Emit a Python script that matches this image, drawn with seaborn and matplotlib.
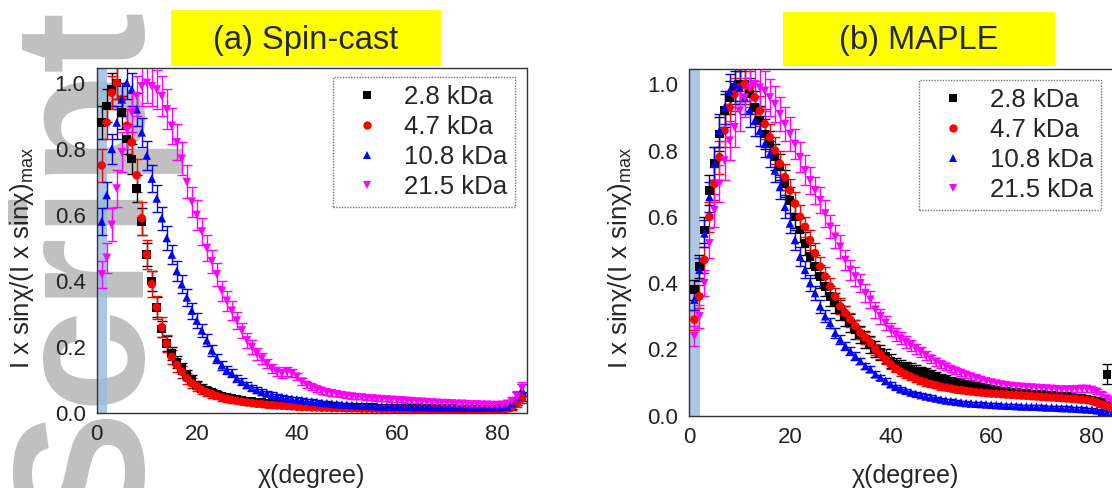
import numpy as np
import pandas as pd
import matplotlib
matplotlib.use("Agg")
import matplotlib.pyplot as plt
from matplotlib.patches import Rectangle
import seaborn as sns

# ---------------------------------------------------------------- data
chi = np.arange(1, 86)  # scattering angle chi, degree

series_labels = ["2.8 kDa", "4.7 kDa", "10.8 kDa", "21.5 kDa"]
series_colors = ["#000000", "#ff0000", "#0000ff", "#ff00ff"]
series_markers = ["s", "o", "^", "v"]

panel_titles = ["(a) Spin-cast", "(b) MAPLE"]
x_ticks = [0, 20, 40, 60, 80]
y_ticks = [0.0, 0.2, 0.4, 0.6, 0.8, 1.0]

# (a) spin-cast films
a_28 = [0.88, 0.93, 0.98, 1.00, 0.91, 0.83, 0.77, 0.68, 0.58, 0.48,
        0.40, 0.32, 0.255, 0.21, 0.18, 0.155, 0.135, 0.115, 0.10, 0.085,
        0.075, 0.068, 0.062, 0.057, 0.052, 0.048, 0.045, 0.042, 0.039, 0.037,
        0.035, 0.033, 0.031, 0.030, 0.028, 0.027, 0.026, 0.025, 0.024, 0.023,
        0.022, 0.022, 0.021, 0.020, 0.020, 0.019, 0.019, 0.018, 0.018, 0.017,
        0.017, 0.017, 0.016, 0.016, 0.016, 0.015, 0.015, 0.015, 0.015, 0.014,
        0.014, 0.014, 0.014, 0.014, 0.013, 0.013, 0.013, 0.013, 0.013, 0.013,
        0.013, 0.012, 0.012, 0.012, 0.012, 0.012, 0.012, 0.012, 0.012, 0.012,
        0.013, 0.015, 0.020, 0.035, 0.050]
a_47 = [0.75, 0.88, 0.97, 1.00, 0.95, 0.87, 0.82, 0.72, 0.59, 0.48,
        0.39, 0.32, 0.26, 0.21, 0.17, 0.145, 0.125, 0.105, 0.09, 0.08,
        0.07, 0.063, 0.057, 0.052, 0.047, 0.043, 0.040, 0.037, 0.034, 0.032,
        0.030, 0.028, 0.027, 0.025, 0.024, 0.023, 0.022, 0.021, 0.020, 0.019,
        0.018, 0.018, 0.017, 0.017, 0.016, 0.016, 0.015, 0.015, 0.015, 0.014,
        0.014, 0.014, 0.013, 0.013, 0.013, 0.013, 0.012, 0.012, 0.012, 0.012,
        0.012, 0.011, 0.011, 0.011, 0.011, 0.011, 0.011, 0.010, 0.010, 0.010,
        0.010, 0.010, 0.010, 0.010, 0.010, 0.010, 0.010, 0.010, 0.010, 0.010,
        0.011, 0.013, 0.018, 0.030, 0.045]
a_108 = [0.58, 0.66, 0.80, 0.88, 0.95, 1.00, 0.98, 0.92, 0.85, 0.78,
         0.71, 0.65, 0.59, 0.53, 0.48, 0.43, 0.39, 0.35, 0.31, 0.28,
         0.25, 0.22, 0.19, 0.165, 0.145, 0.13, 0.12, 0.105, 0.095, 0.085,
         0.077, 0.070, 0.064, 0.059, 0.055, 0.051, 0.048, 0.045, 0.043, 0.041,
         0.039, 0.037, 0.035, 0.033, 0.031, 0.030, 0.028, 0.027, 0.026, 0.025,
         0.024, 0.023, 0.022, 0.022, 0.021, 0.021, 0.020, 0.020, 0.020, 0.019,
         0.019, 0.019, 0.018, 0.018, 0.018, 0.018, 0.017, 0.017, 0.017, 0.017,
         0.017, 0.017, 0.016, 0.016, 0.016, 0.016, 0.016, 0.016, 0.016, 0.016,
         0.018, 0.020, 0.030, 0.050, 0.070]
a_215 = [0.42, 0.47, 0.57, 0.68, 0.79, 0.86, 0.91, 0.96, 0.99, 1.00,
         0.99, 0.98, 0.96, 0.92, 0.87, 0.82, 0.77, 0.70, 0.64, 0.60,
         0.55, 0.50, 0.46, 0.42, 0.37, 0.34, 0.31, 0.28, 0.25, 0.22,
         0.20, 0.18, 0.165, 0.15, 0.135, 0.125, 0.12, 0.125, 0.12, 0.11,
         0.095, 0.085, 0.078, 0.072, 0.067, 0.063, 0.060, 0.057, 0.054, 0.052,
         0.050, 0.048, 0.047, 0.045, 0.044, 0.043, 0.042, 0.041, 0.040, 0.039,
         0.038, 0.037, 0.036, 0.035, 0.034, 0.033, 0.032, 0.031, 0.030, 0.030,
         0.029, 0.028, 0.028, 0.027, 0.026, 0.026, 0.025, 0.025, 0.024, 0.024,
         0.025, 0.028, 0.035, 0.050, 0.075]

a_28_err = [0.05, 0.05, 0.05, 0.05, 0.05, 0.045, 0.045, 0.04, 0.04, 0.035,
            0.03, 0.03, 0.025, 0.022, 0.02, 0.018, 0.016, 0.015, 0.014, 0.013,
            0.012, 0.011, 0.010, 0.010, 0.009, 0.009, 0.008, 0.008, 0.008, 0.007,
            0.007, 0.007, 0.006, 0.006, 0.006, 0.006, 0.005, 0.005, 0.005, 0.005,
            0.005, 0.005, 0.005, 0.005, 0.005, 0.004, 0.004, 0.004, 0.004, 0.004,
            0.004, 0.004, 0.004, 0.004, 0.004, 0.004, 0.004, 0.004, 0.004, 0.004,
            0.004, 0.004, 0.004, 0.004, 0.004, 0.004, 0.004, 0.004, 0.004, 0.004,
            0.004, 0.004, 0.004, 0.004, 0.004, 0.004, 0.004, 0.004, 0.004, 0.004,
            0.005, 0.006, 0.008, 0.012, 0.015]
a_47_err = [0.05, 0.05, 0.05, 0.05, 0.05, 0.05, 0.05, 0.05, 0.05, 0.045,
            0.04, 0.035, 0.03, 0.025, 0.022, 0.02, 0.018, 0.016, 0.015, 0.014,
            0.013, 0.012, 0.011, 0.010, 0.010, 0.009, 0.009, 0.008, 0.008, 0.007,
            0.007, 0.007, 0.006, 0.006, 0.006, 0.006, 0.005, 0.005, 0.005, 0.005,
            0.005, 0.005, 0.005, 0.005, 0.005, 0.004, 0.004, 0.004, 0.004, 0.004,
            0.004, 0.004, 0.004, 0.004, 0.004, 0.004, 0.004, 0.004, 0.004, 0.004,
            0.004, 0.004, 0.004, 0.004, 0.004, 0.004, 0.004, 0.004, 0.004, 0.004,
            0.004, 0.004, 0.004, 0.004, 0.004, 0.004, 0.004, 0.004, 0.004, 0.004,
            0.005, 0.006, 0.008, 0.012, 0.015]
a_108_err = [0.04, 0.04, 0.045, 0.05, 0.05, 0.05, 0.05, 0.05, 0.045, 0.045,
             0.04, 0.04, 0.035, 0.035, 0.03, 0.03, 0.028, 0.026, 0.024, 0.022,
             0.02, 0.018, 0.016, 0.015, 0.014, 0.013, 0.012, 0.011, 0.010, 0.010,
             0.009, 0.009, 0.008, 0.008, 0.008, 0.007, 0.007, 0.007, 0.006, 0.006,
             0.006, 0.006, 0.006, 0.005, 0.005, 0.005, 0.005, 0.005, 0.005, 0.005,
             0.005, 0.005, 0.005, 0.005, 0.005, 0.005, 0.005, 0.005, 0.005, 0.005,
             0.005, 0.005, 0.005, 0.005, 0.005, 0.005, 0.005, 0.005, 0.005, 0.005,
             0.005, 0.005, 0.005, 0.005, 0.005, 0.005, 0.005, 0.005, 0.005, 0.005,
             0.006, 0.007, 0.010, 0.014, 0.018]
a_215_err = [0.04, 0.045, 0.05, 0.055, 0.06, 0.06, 0.06, 0.06, 0.06, 0.06,
             0.06, 0.06, 0.06, 0.06, 0.055, 0.055, 0.05, 0.05, 0.045, 0.045,
             0.04, 0.04, 0.035, 0.035, 0.03, 0.03, 0.028, 0.026, 0.024, 0.022,
             0.02, 0.018, 0.016, 0.015, 0.014, 0.013, 0.013, 0.013, 0.012, 0.011,
             0.010, 0.010, 0.009, 0.009, 0.008, 0.008, 0.008, 0.007, 0.007, 0.007,
             0.007, 0.006, 0.006, 0.006, 0.006, 0.006, 0.006, 0.006, 0.006, 0.006,
             0.006, 0.006, 0.006, 0.006, 0.006, 0.006, 0.006, 0.006, 0.006, 0.006,
             0.006, 0.006, 0.006, 0.006, 0.006, 0.006, 0.006, 0.006, 0.006, 0.006,
             0.008, 0.009, 0.012, 0.016, 0.020]

# (b) MAPLE films
b_28 = [0.38, 0.45, 0.56, 0.68, 0.76, 0.85, 0.92, 0.96, 0.99, 1.00,
        1.00, 0.97, 0.93, 0.89, 0.85, 0.82, 0.78, 0.75, 0.70, 0.65,
        0.60, 0.56, 0.52, 0.48, 0.45, 0.42, 0.39, 0.36, 0.34, 0.32,
        0.30, 0.28, 0.26, 0.245, 0.23, 0.215, 0.20, 0.19, 0.18, 0.165,
        0.155, 0.150, 0.145, 0.140, 0.135, 0.130, 0.127, 0.122, 0.117, 0.112,
        0.108, 0.104, 0.100, 0.097, 0.094, 0.091, 0.088, 0.085, 0.082, 0.079,
        0.077, 0.075, 0.073, 0.071, 0.070, 0.068, 0.067, 0.066, 0.065, 0.064,
        0.062, 0.061, 0.060, 0.059, 0.058, 0.056, 0.054, 0.052, 0.050, 0.047,
        0.045, 0.040, 0.125, 0.030, 0.020]
b_47 = [0.29, 0.36, 0.47, 0.60, 0.70, 0.78, 0.86, 0.93, 0.97, 0.99,
        1.00, 0.99, 0.96, 0.92, 0.88, 0.84, 0.80, 0.76, 0.72, 0.68,
        0.64, 0.60, 0.57, 0.53, 0.49, 0.45, 0.42, 0.39, 0.36, 0.33,
        0.31, 0.29, 0.27, 0.25, 0.235, 0.22, 0.20, 0.185, 0.17, 0.155,
        0.143, 0.133, 0.125, 0.118, 0.111, 0.105, 0.100, 0.096, 0.092, 0.088,
        0.085, 0.082, 0.079, 0.077, 0.075, 0.073, 0.071, 0.070, 0.068, 0.067,
        0.066, 0.065, 0.064, 0.063, 0.062, 0.061, 0.060, 0.059, 0.058, 0.057,
        0.056, 0.055, 0.054, 0.053, 0.052, 0.051, 0.050, 0.049, 0.047, 0.045,
        0.040, 0.034, 0.028, 0.022, 0.018]
b_108 = [0.35, 0.44, 0.55, 0.66, 0.76, 0.86, 0.93, 0.98, 1.00, 0.99,
         0.96, 0.92, 0.89, 0.86, 0.82, 0.79, 0.74, 0.69, 0.63, 0.58,
         0.53, 0.48, 0.44, 0.40, 0.37, 0.33, 0.30, 0.28, 0.25, 0.23,
         0.21, 0.195, 0.18, 0.165, 0.15, 0.14, 0.125, 0.115, 0.105, 0.095,
         0.087, 0.080, 0.075, 0.070, 0.066, 0.062, 0.058, 0.055, 0.052, 0.049,
         0.046, 0.044, 0.042, 0.040, 0.038, 0.037, 0.036, 0.035, 0.034, 0.033,
         0.032, 0.031, 0.030, 0.030, 0.029, 0.028, 0.028, 0.027, 0.027, 0.026,
         0.025, 0.025, 0.024, 0.023, 0.023, 0.022, 0.021, 0.020, 0.019, 0.018,
         0.016, 0.012, 0.008, 0.005, 0.004]
b_215 = [0.24, 0.30, 0.40, 0.52, 0.62, 0.70, 0.77, 0.83, 0.87, 0.92,
         0.96, 0.99, 1.00, 0.99, 0.98, 0.96, 0.94, 0.91, 0.88, 0.85,
         0.82, 0.78, 0.74, 0.71, 0.68, 0.65, 0.61, 0.57, 0.54, 0.51,
         0.47, 0.44, 0.42, 0.40, 0.37, 0.35, 0.32, 0.30, 0.28, 0.26,
         0.245, 0.233, 0.222, 0.212, 0.202, 0.192, 0.182, 0.172, 0.163, 0.155,
         0.148, 0.141, 0.135, 0.129, 0.123, 0.118, 0.113, 0.108, 0.104, 0.100,
         0.097, 0.094, 0.092, 0.090, 0.088, 0.087, 0.086, 0.085, 0.084, 0.083,
         0.082, 0.081, 0.080, 0.079, 0.079, 0.079, 0.080, 0.081, 0.081, 0.078,
         0.072, 0.062, 0.052, 0.042, 0.035]

b_28_err = [0.03, 0.035, 0.04, 0.045, 0.05, 0.05, 0.05, 0.05, 0.05, 0.05,
            0.05, 0.05, 0.05, 0.045, 0.045, 0.04, 0.04, 0.04, 0.04, 0.04,
            0.035, 0.035, 0.035, 0.035, 0.035, 0.035, 0.03, 0.03, 0.03, 0.03,
            0.03, 0.028, 0.028, 0.026, 0.026, 0.025, 0.024, 0.023, 0.022, 0.021,
            0.020, 0.019, 0.018, 0.018, 0.017, 0.016, 0.016, 0.015, 0.015, 0.014,
            0.014, 0.013, 0.013, 0.012, 0.012, 0.012, 0.011, 0.011, 0.011, 0.010,
            0.010, 0.010, 0.010, 0.010, 0.010, 0.010, 0.010, 0.010, 0.010, 0.010,
            0.010, 0.010, 0.010, 0.010, 0.010, 0.010, 0.010, 0.010, 0.010, 0.010,
            0.010, 0.010, 0.030, 0.010, 0.010]
b_47_err = [0.03, 0.035, 0.04, 0.045, 0.05, 0.05, 0.05, 0.05, 0.05, 0.05,
            0.05, 0.05, 0.05, 0.045, 0.045, 0.04, 0.04, 0.04, 0.04, 0.035,
            0.035, 0.035, 0.03, 0.03, 0.03, 0.03, 0.028, 0.026, 0.025, 0.024,
            0.022, 0.021, 0.020, 0.019, 0.018, 0.017, 0.016, 0.015, 0.014, 0.013,
            0.012, 0.012, 0.011, 0.011, 0.010, 0.010, 0.010, 0.009, 0.009, 0.009,
            0.008, 0.008, 0.008, 0.008, 0.008, 0.007, 0.007, 0.007, 0.007, 0.007,
            0.007, 0.007, 0.007, 0.007, 0.007, 0.007, 0.007, 0.007, 0.007, 0.007,
            0.007, 0.007, 0.007, 0.007, 0.007, 0.007, 0.007, 0.007, 0.007, 0.007,
            0.007, 0.007, 0.007, 0.007, 0.007]
b_108_err = [0.03, 0.035, 0.04, 0.045, 0.05, 0.05, 0.05, 0.05, 0.05, 0.05,
             0.05, 0.05, 0.045, 0.045, 0.04, 0.04, 0.035, 0.035, 0.035, 0.03,
             0.03, 0.028, 0.026, 0.024, 0.022, 0.02, 0.018, 0.016, 0.015, 0.014,
             0.013, 0.012, 0.011, 0.010, 0.010, 0.009, 0.009, 0.008, 0.008, 0.008,
             0.007, 0.007, 0.007, 0.006, 0.006, 0.006, 0.006, 0.006, 0.005, 0.005,
             0.005, 0.005, 0.005, 0.005, 0.005, 0.005, 0.005, 0.005, 0.005, 0.005,
             0.005, 0.005, 0.005, 0.005, 0.005, 0.005, 0.005, 0.005, 0.005, 0.005,
             0.005, 0.005, 0.005, 0.005, 0.005, 0.005, 0.005, 0.005, 0.005, 0.005,
             0.005, 0.005, 0.005, 0.005, 0.005]
b_215_err = [0.03, 0.035, 0.04, 0.045, 0.05, 0.055, 0.06, 0.06, 0.06, 0.06,
             0.06, 0.06, 0.06, 0.06, 0.06, 0.055, 0.055, 0.05, 0.05, 0.05,
             0.045, 0.045, 0.045, 0.04, 0.04, 0.04, 0.04, 0.035, 0.035, 0.035,
             0.03, 0.03, 0.03, 0.028, 0.026, 0.025, 0.024, 0.022, 0.021, 0.020,
             0.019, 0.018, 0.017, 0.016, 0.015, 0.014, 0.013, 0.012, 0.012, 0.011,
             0.011, 0.010, 0.010, 0.010, 0.009, 0.009, 0.009, 0.009, 0.008, 0.008,
             0.008, 0.008, 0.008, 0.008, 0.008, 0.008, 0.008, 0.008, 0.008, 0.008,
             0.008, 0.008, 0.008, 0.008, 0.008, 0.008, 0.008, 0.008, 0.008, 0.008,
             0.008, 0.008, 0.008, 0.008, 0.008]

panel_values = [[a_28, a_47, a_108, a_215], [b_28, b_47, b_108, b_215]]
panel_errors = [[a_28_err, a_47_err, a_108_err, a_215_err],
                [b_28_err, b_47_err, b_108_err, b_215_err]]

# ---------------------------------------------------------------- style
sns.set_style("white")
plt.rcParams["font.family"] = ["Liberation Sans", "DejaVu Sans"]
plt.rcParams["mathtext.fontset"] = "custom"
plt.rcParams["mathtext.rm"] = "Liberation Sans"
plt.rcParams["axes.unicode_minus"] = False

W, H = 1112, 488
fig = plt.figure(figsize=(W / 100, H / 100), dpi=100, facecolor="white")


def fx(px):
    return px / W


def fy(py):
    return 1 - py / H


# large grey lettering down the left edge, beneath everything else
fig.text(fx(139), fy(529), "Script", rotation=90, rotation_mode="anchor",
         ha="left", va="baseline", fontsize=133, fontweight="bold",
         color="#c0c0c0", family="Liberation Sans", zorder=-5)

axes_px = [(96.7, 68, 527, 413), (689.3, 69.3, 1122, 415.7)]
title_boxes = [(171, 10, 441, 66), (783, 12, 1055, 66)]
legend_corner = [(515, 77), (1101, 80)]
ylabel_x = [22, 620]
ymax = 1.045

pal = dict(zip(series_labels, series_colors))
mk = dict(zip(series_labels, series_markers))

for p in range(2):
    x0, y0, x1, y1 = axes_px[p]
    ax = fig.add_axes([fx(x0), fy(y1), fx(x1 - x0), (y1 - y0) / H])
    ax.set_facecolor("none")

    # shaded beam-stop region at small chi
    ax.axvspan(0, 2.1, color="#98b9e0", alpha=0.8, lw=0, zorder=1)

    frames = []
    for lab, col, vals, errs in zip(series_labels, series_colors,
                                    panel_values[p], panel_errors[p]):
        ax.errorbar(chi, vals, yerr=errs, fmt="none", ecolor=col,
                    elinewidth=1.0, capsize=3.3, capthick=1.0, zorder=2)
        frames.append(pd.DataFrame({"chi": chi, "I": vals, "sample": lab}))
    df = pd.concat(frames, ignore_index=True)

    sns.scatterplot(data=df, x="chi", y="I", hue="sample", style="sample",
                    palette=pal, markers=mk, s=38, linewidth=0,
                    edgecolor="none", ax=ax, zorder=3)

    ax.set_xlim(0, 86)
    ax.set_ylim(0, ymax)
    ax.set_xticks(x_ticks)
    ax.set_yticks(y_ticks)
    ax.set_yticklabels([f"{v:.1f}" for v in y_ticks])
    ax.set_xticks([10, 30, 50, 70], minor=True)
    ax.set_yticks([0.1, 0.3, 0.5, 0.7, 0.9], minor=True)
    ax.tick_params(axis="both", which="major", direction="out", length=5,
                   width=0.9, labelsize=16, colors="#222222", pad=3)
    ax.tick_params(axis="both", which="minor", direction="out", length=3,
                   width=0.8, colors="#222222")
    ax.set_xlabel("")
    ax.set_ylabel("")
    for sp in ax.spines.values():
        sp.set_visible(True)
        sp.set_color("#333333")
        sp.set_linewidth(1.0)
        sp.set_linestyle((0, (1, 1)))

    handles, labels = ax.get_legend_handles_labels()
    for h in handles:
        if hasattr(h, "set_markersize"):
            h.set_markersize(6)
    lx, ly = legend_corner[p]
    leg = ax.legend(handles, labels, loc="upper right",
                    bbox_to_anchor=(fx(lx), fy(ly)),
                    bbox_transform=fig.transFigure, borderaxespad=0,
                    fontsize=18.5, frameon=True, fancybox=False,
                    handlelength=2.0, handletextpad=0.45, labelspacing=0.24,
                    borderpad=0.3)
    fr = leg.get_frame()
    fr.set_edgecolor("#555555")
    fr.set_linewidth(1.0)
    fr.set_linestyle((0, (1, 1)))
    fr.set_facecolor("white")

    # axis titles
    fig.text(fx((x0 + min(x1, 1122)) / 2), fy(476), "χ(degree)",
             ha="center", va="center", fontsize=18)
    fig.text(fx(ylabel_x[p]), fy(258),
             r"I x sinχ/(I x sinχ)$_{\mathregular{max}}$",
             rotation=90, ha="center", va="center", fontsize=18.5)

    # yellow panel title box
    bx0, by0, bx1, by1 = title_boxes[p]
    fig.add_artist(Rectangle((fx(bx0), fy(by1)), fx(bx1 - bx0), (by1 - by0) / H,
                             transform=fig.transFigure, facecolor="#ffff00",
                             edgecolor="none", zorder=1))
    fig.text(fx((bx0 + bx1) / 2), fy((by0 + by1) / 2 + 2), panel_titles[p],
             ha="center", va="center", fontsize=23.5, zorder=2)

fig.savefig("out.png", dpi=100, facecolor="white")
